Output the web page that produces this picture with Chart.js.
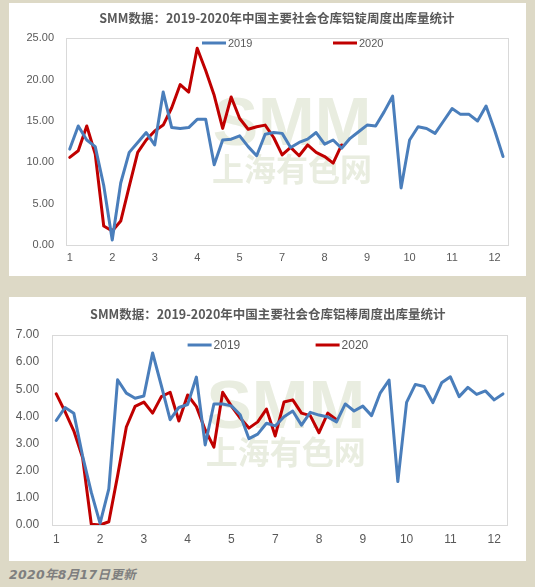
<!DOCTYPE html>
<html>
<head>
<meta charset="utf-8">
<script src="https://cdn.jsdelivr.net/npm/chart.js@4/dist/chart.umd.min.js"></script>
<style>
  html, body { margin: 0; padding: 0; }
  body { width: 535px; height: 587px; background: #DDD9C6; position: relative; overflow: hidden; }
  .box { position: absolute; background: #FFFFFF; }
  #box1 { left: 9px; top: 3px; width: 517px; height: 273px; }
  #box2 { left: 9px; top: 297px; width: 517px; height: 264px; }
  #footer { position: absolute; left: 9px; top: 564px; line-height: 15px; font: italic bold 12.5px "DejaVu Sans", "Noto Sans CJK SC", sans-serif; color: #7F7F7F; letter-spacing: 0.3px; }
  canvas { display: block; }
</style>
</head>
<body>
<div class="box" id="box1"><canvas id="c1" width="517" height="273"></canvas></div>
<div class="box" id="box2"><canvas id="c2" width="517" height="264"></canvas></div>
<div id="footer">2020年8月17日更新</div>
<script>
// ---- DATA ----
const weeks = [1,2,3,4,5,6,7,8,9,10,11,12,13,14,15,16,17,18,19,20,21,22,23,24,25,26,
               27,28,29,30,31,32,33,34,35,36,37,38,39,40,41,42,43,44,45,46,47,48,49,50,51,52];
const monthTickLabels = ['1','2','3','4','5','7','8','9','10','11','12'];
const seriesNames = ['2019', '2020'];

const ingotTitle = 'SMM数据：2019-2020年中国主要社会仓库铝锭周度出库量统计';
const ingot2019 = [11.6,14.4,12.7,11.9,7.2,0.6,7.5,11.2,12.4,13.6,12.1,18.5,14.2,14.1,14.2,15.2,15.2,9.7,12.7,12.8,
                   13.2,11.9,10.8,13.4,13.6,13.5,11.8,12.4,12.8,13.6,12.2,12.7,11.7,12.9,13.7,14.5,14.4,16.1,18.0,6.9,
                   12.7,14.3,14.1,13.5,15.0,16.5,15.8,15.8,15.0,16.8,13.9,10.7];
const ingot2020 = [10.6,11.4,14.4,11.0,2.3,1.7,2.9,7.1,11.2,12.7,13.8,14.5,16.6,19.4,18.5,23.8,21.1,18.1,14.1,17.9,
                   15.3,14.0,14.3,14.5,13.0,10.9,11.8,10.8,12.1,11.2,10.7,9.9,12.1];
const ingotYMax = 25, ingotYStep = 5;

const rodTitle = 'SMM数据：2019-2020年中国主要社会仓库铝棒周度出库量统计';
const rod2019 = [3.85,4.33,4.12,2.55,1.2,0.06,1.33,5.35,4.86,4.67,4.75,6.34,5.13,3.88,4.33,4.44,5.45,2.95,4.46,4.46,
                 4.39,4.06,3.18,3.35,3.75,3.65,3.99,4.2,3.68,4.15,4.05,3.98,3.8,4.46,4.2,4.38,4.03,4.87,5.34,1.6,
                 4.52,5.18,5.1,4.51,5.24,5.46,4.73,5.07,4.81,4.94,4.61,4.83];
const rod2020 = [4.83,4.18,3.47,2.49,0.03,0.0,0.12,1.81,3.61,4.37,4.53,4.12,4.73,4.89,3.83,4.79,4.36,3.51,2.87,4.89,
                 4.38,3.94,3.57,3.8,4.27,3.28,4.53,4.61,4.12,4.03,3.4,4.12,3.88];
const rodYMax = 7, rodYStep = 1;

// ---- STYLE ----
const COLORS = ['#4A7EBB', '#C00000'];
const TEXT = '#595959';
const TICK_FONT = '"Liberation Sans", Arial, sans-serif';
const TITLE_FONT = '"Noto Sans CJK SC", "Liberation Sans", sans-serif';

function makeChart(canvasId, title, y2019, y2020, yMax, yStep, geo) {
  const ctx = document.getElementById(canvasId);
  const W = ctx.width, H = ctx.height;
  const overlay = {
    id: 'overlay' + canvasId,
    afterLayout(chart) {
      const t = chart.titleBlock;
      if (t) { t.left += geo.titleShift; t.right += geo.titleShift; }
    },
    beforeDatasetsDraw(chart) {
      const c = chart.ctx, a = chart.chartArea;
      c.save();
      // watermark
      c.fillStyle = '#E9EDE0';
      c.textAlign = 'center';
      c.textBaseline = 'alphabetic';
      c.font = 'bold 68px "Liberation Sans", Arial, sans-serif';
      c.fillText('SMM', geo.wmX, geo.wmSmmBase);
      c.textBaseline = 'middle';
      c.font = 'bold 32px "Noto Sans CJK SC", sans-serif';
      c.fillText('上海有色网', geo.wmX, geo.wmCjkY);
      // plot border
      c.strokeStyle = '#D9D9D9';
      c.lineWidth = 1;
      c.strokeRect(Math.round(a.left) + 0.5, Math.round(a.top) + 0.5,
                   Math.round(a.right - a.left), Math.round(a.bottom - a.top));
      c.restore();
    },
    afterDraw(chart) {
      const c = chart.ctx;
      c.save();
      c.font = geo.legendSize + 'px ' + TICK_FONT;
      c.fillStyle = TEXT;
      c.textBaseline = 'middle';
      c.textAlign = 'left';
      chart.data.datasets.forEach((ds, i) => {
        const x0 = geo.legendX[i];
        c.strokeStyle = ds.borderColor;
        c.lineWidth = 3;
        c.beginPath();
        c.moveTo(x0, geo.legendY);
        c.lineTo(x0 + 24, geo.legendY);
        c.stroke();
        c.fillText(ds.label, x0 + 26, geo.legendY + 0.5);
      });
      c.restore();
    }
  };
  return new Chart(ctx, {
    type: 'line',
    data: {
      labels: weeks,
      datasets: [
        { label: seriesNames[0], data: y2019, borderColor: COLORS[0], backgroundColor: COLORS[0] },
        { label: seriesNames[1], data: y2020, borderColor: COLORS[1], backgroundColor: COLORS[1] }
      ]
    },
    options: {
      responsive: false,
      animation: false,
      devicePixelRatio: 1,
      elements: {
        line: { borderWidth: 3, tension: 0, borderJoinStyle: 'round', borderCapStyle: 'round' },
        point: { radius: 0, hoverRadius: 0 }
      },
      layout: { padding: { left: 0, right: W - geo.right, top: 0, bottom: 0 } },
      plugins: {
        legend: { display: false },
        tooltip: { enabled: false },
        title: {
          display: true,
          text: title,
          color: TEXT,
          font: { family: TITLE_FONT, size: geo.titleSize, weight: 'bold', lineHeight: 1.2 },
          padding: { top: geo.titleCenter - geo.titleSize * 0.6, bottom: geo.top - geo.titleCenter - geo.titleSize * 0.6 }
        }
      },
      scales: {
        x: {
          type: 'category',
          offset: true,
          grid: { display: false, drawTicks: false },
          border: { display: false },
          afterFit(s) { s.height = H - geo.bottom; },
          ticks: {
            autoSkip: false,
            maxRotation: 0,
            minRotation: 0,
            padding: geo.xPad,
            color: TEXT,
            font: { family: TICK_FONT, size: geo.tickSize },
            callback(v, i) { return i % 5 === 0 ? monthTickLabels[i / 5] : ''; }
          }
        },
        y: {
          min: 0,
          max: yMax,
          grid: { display: false, drawTicks: false },
          border: { display: false },
          afterFit(s) { s.width = geo.left; },
          ticks: {
            stepSize: yStep,
            padding: geo.yPad,
            color: TEXT,
            font: { family: TICK_FONT, size: geo.tickSize },
            callback(v) { return Number(v).toFixed(2); }
          }
        }
      }
    },
    plugins: [overlay]
  });
}

makeChart('c1', ingotTitle, ingot2019, ingot2020, ingotYMax, ingotYStep, {
  left: 56.5, right: 498.3, top: 35.3, bottom: 242,
  titleCenter: 15, titleSize: 12.5, titleShift: 18.8, tickSize: 11, xPad: 6.4, yPad: 11.5,
  legendX: [193, 324], legendY: 40, legendSize: 11,
  wmX: 283, wmSmmBase: 142, wmCjkY: 165.5
});
makeChart('c2', rodTitle, rod2019, rod2020, rodYMax, rodYStep, {
  left: 42.9, right: 498.3, top: 38, bottom: 228,
  titleCenter: 17, titleSize: 12.5, titleShift: 9.6, tickSize: 12, xPad: 7.1, yPad: 12.7,
  legendX: [178.6, 306.6], legendY: 48, legendSize: 12,
  wmX: 276.7, wmSmmBase: 131, wmCjkY: 154.7
});
</script>
</body>
</html>
